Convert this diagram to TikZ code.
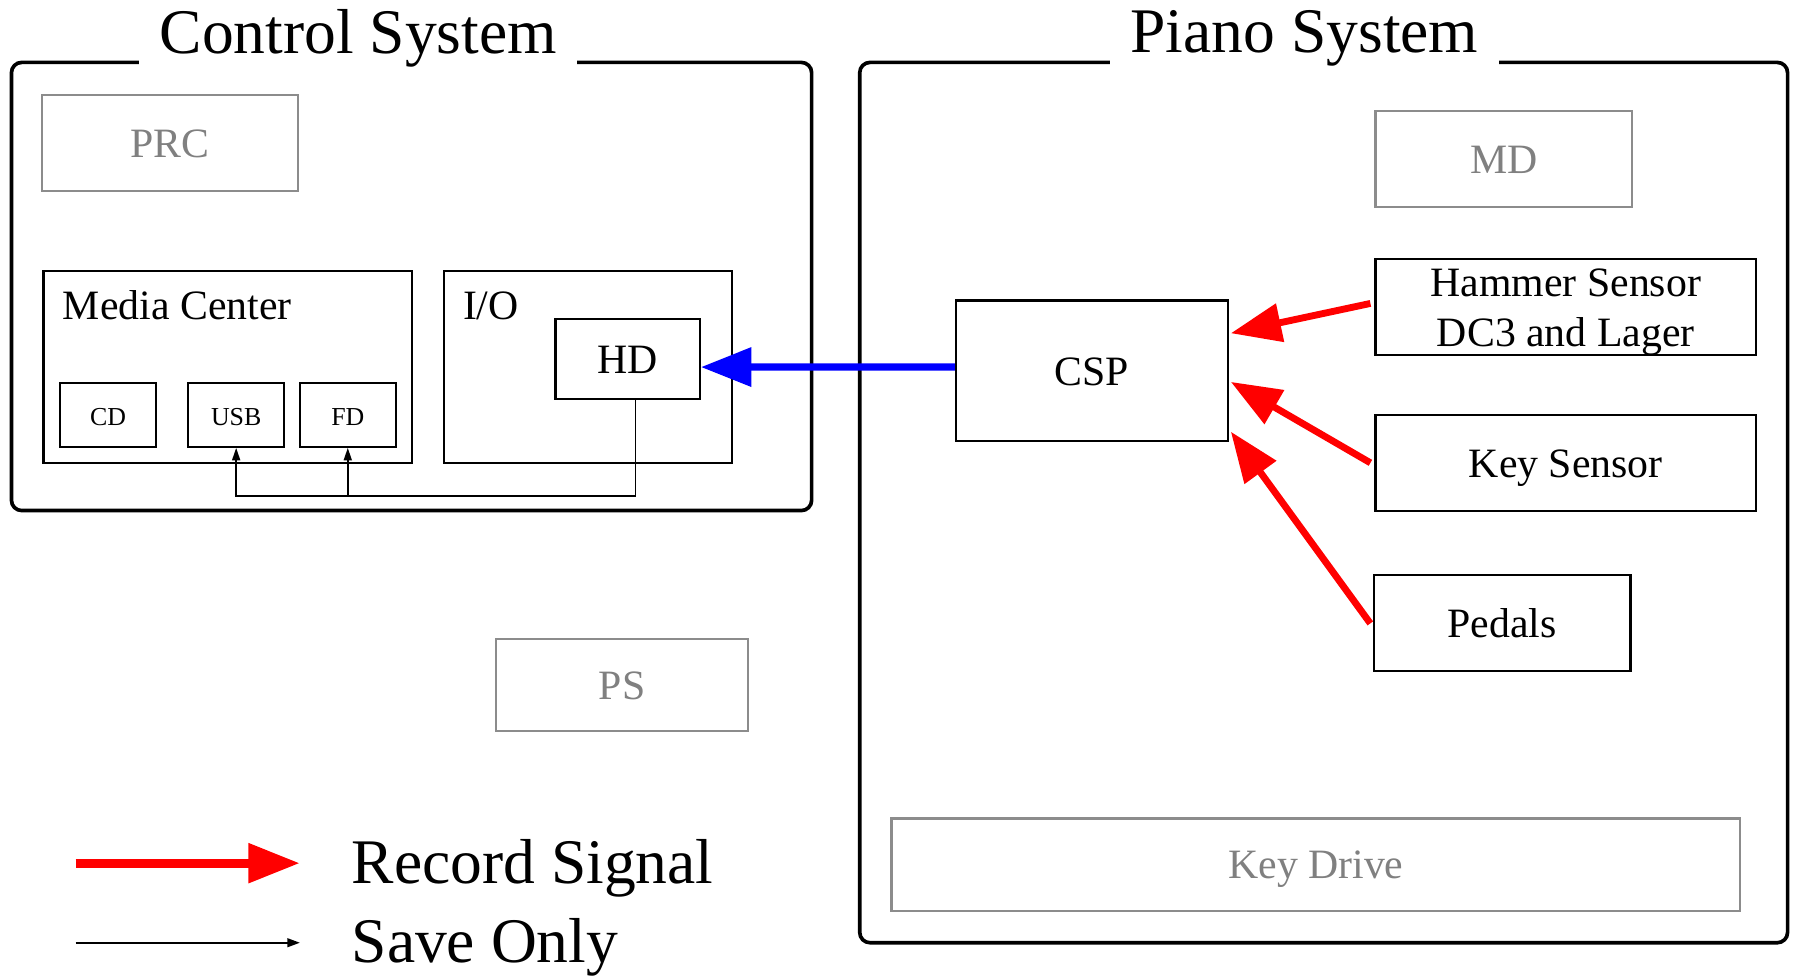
\documentclass[tikz,border=0pt]{standalone}
\usepackage{fontspec}
\setmainfont{Liberation Serif}
\usetikzlibrary{arrows.meta,calc}
\definecolor{boxgray}{RGB}{140,140,140}
\definecolor{txtgray}{RGB}{128,128,128}
\begin{document}
\begin{tikzpicture}[x=1pt,y=-1pt,
  sysbox/.style={draw=black,line width=3.2pt,rounded corners=9pt,inner sep=0pt},
  systitle/.style={fill=white,inner xsep=18pt,inner ysep=3pt,anchor=base,font=\fontsize{55.5}{60}\selectfont},
  blk/.style={draw=black,line width=2pt,inner sep=0pt,font=\fontsize{36.5}{44.2}\selectfont,text height=25pt,text depth=0pt},
  gblk/.style={draw=boxgray,line width=2pt,inner sep=0pt,text=txtgray,font=\fontsize{36.5}{44.2}\selectfont,text height=25pt,text depth=0pt},
  sblk/.style={draw=black,line width=2pt,inner sep=0pt,font=\fontsize{22.6}{26}\selectfont,text height=18pt,text depth=0pt},
  lbl/.style={anchor=base,inner sep=0pt,font=\fontsize{36.5}{44.2}\selectfont},
  lblw/.style={anchor=base west,inner sep=0pt,font=\fontsize{36.5}{44.2}\selectfont},
  leg/.style={anchor=base west,inner sep=0pt,font=\fontsize{55.5}{60}\selectfont},
  rec/.style={draw=red,line width=6pt,-{Triangle[length=44pt,width=33pt]}},
  legrec/.style={draw=red,line width=8pt,-{Triangle[length=45pt,width=33pt]}},
  play/.style={draw=blue,line width=6.4pt,-{Triangle[length=44pt,width=33pt]}},
  save/.style={draw=black,line width=1.6pt,-{Triangle[length=11pt,width=7pt]}}
]
\useasboundingbox (0,0) rectangle (1568,852);
\fill[white] (0,0) rectangle (1568,852);

% system containers
\node[sysbox,minimum width=699pt,minimum height=391.5pt] (ctrl) at (359.5,250.25) {};
\node[sysbox,minimum width=810.5pt,minimum height=769pt] (piano) at (1156.25,439) {};
\node[systitle] (ctrltitle) at (313,46.6) {Control System};
\node[systitle] (pianotitle) at (1139.5,45.7) {Piano System};

% control system
\node[gblk,minimum width=223.9pt,minimum height=83.8pt] (prc) at (148.45,124.9) {PRC};
\node[draw=black,line width=2pt,minimum width=322pt,minimum height=167.4pt,inner sep=0pt] (media) at (199,320.5) {};
\node[lblw] (medialbl) at (54.8,278.9) {Media Center};
\node[draw=black,line width=2pt,minimum width=251.3pt,minimum height=167.4pt,inner sep=0pt] (io) at (513.55,320.5) {};
\node[lblw] (iolbl) at (404.3,278.9) {I/O};
\node[blk,minimum width=126.1pt,minimum height=69.9pt] (hd) at (548.25,313.35) {HD};
\node[sblk,minimum width=83.7pt,minimum height=55.9pt] (cd) at (94.35,362.25) {CD};
\node[sblk,minimum width=83.6pt,minimum height=55.9pt] (usb) at (206.3,362.25) {USB};
\node[sblk,minimum width=84pt,minimum height=55.9pt] (fd) at (303.8,362.25) {FD};
\node[gblk,minimum width=220.1pt,minimum height=80.3pt] (ps) at (543.35,598.35) {PS};

% piano system
\node[gblk,minimum width=223.8pt,minimum height=84.1pt] (md) at (1313.5,138.75) {MD};
\node[draw=black,line width=2pt,minimum width=332.3pt,minimum height=84.1pt,inner sep=0pt] (hammer) at (1367.75,268.05) {};
\node[lbl] (hammer1) at (1367.75,258.6) {Hammer Sensor};
\node[lbl] (hammer2) at (1367.75,302.8) {DC3 and Lager};
\node[blk,minimum width=332.3pt,minimum height=83.6pt] (key) at (1367.75,404.3) {Key Sensor};
\node[blk,minimum width=224.4pt,minimum height=84.1pt] (pedals) at (1312.2,544.05) {Pedals};
\node[blk,minimum width=237.6pt,minimum height=122.6pt] (csp) at (953.9,323.9) {CSP};
\node[gblk,minimum width=741.4pt,minimum height=80.4pt] (keydrive) at (1149.5,755.3) {Key Drive};

% connectors
\coordinate (t1) at ($(csp.north east)+(1.5,29.5)$);
\coordinate (t2) at ($(csp.north east)+(1.5,72)$);
\coordinate (t3) at ($(csp.north east)+(1.5,115.5)$);
\coordinate (s1) at ($(hammer.west)+(-3.5,-3)$);
\coordinate (s2) at ($(key.west)+(-3.5,0)$);
\coordinate (s3) at ($(pedals.west)+(-2,0.5)$);
\draw[rec] (s1) -- (t1);
\draw[rec] (s2) -- (t2);
\draw[rec] (s3) -- (t3);

\coordinate (bstart) at ($(csp.west)+(0,-3.3)$);
\coordinate (bend) at ($(hd.east)+(0,7.3)$);
\draw[play] (bstart) -- (bend);

\coordinate (hdout) at ($(hd.south)+(6.9,0)$);
\coordinate (bus) at ($(hdout)+(0,84.1)$);
\draw[save] (hdout) -- (bus) -| (usb.south);
\draw[save] (fd.south |- bus) -- (fd.south);

% legend
\coordinate (lr1) at (66,754);
\coordinate (lr2) at (262,754);
\coordinate (lb1) at (66,823.5);
\coordinate (lb2) at (262,823.5);
\draw[legrec] (lr1) -- (lr2);
\draw[draw=black,line width=1.75pt,-{Triangle[length=11pt,width=7.6pt]}] (lb1) -- (lb2);
\node[leg] (legrec) at (307,771.5) {Record Signal};
\node[leg] (legsave) at (307,841) {Save Only};
\end{tikzpicture}
\end{document}
